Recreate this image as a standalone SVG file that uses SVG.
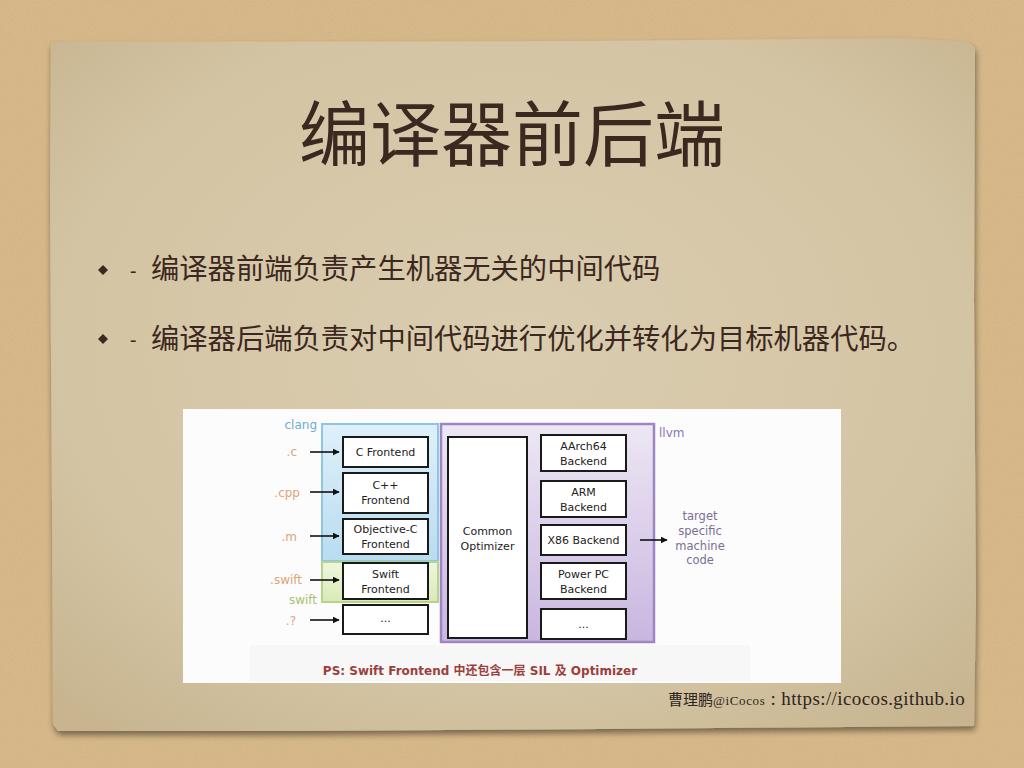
<svg xmlns="http://www.w3.org/2000/svg" width="1024" height="768" viewBox="0 0 1024 768">
<defs>
<filter id="cork" x="0" y="0" width="1024" height="768" filterUnits="userSpaceOnUse">
<feTurbulence type="fractalNoise" baseFrequency="0.8" numOctaves="2" seed="3" result="n"/>
<feColorMatrix in="n" type="matrix" values="0 0 0 0 0.58  0 0 0 0 0.44  0 0 0 0 0.27  1.6 0 0 0 -0.62" result="c"/>
</filter>
<filter id="shadow" x="-5%" y="-5%" width="110%" height="110%">
<feGaussianBlur in="SourceAlpha" stdDeviation="3"/>
<feOffset dx="1" dy="4"/>
<feComponentTransfer><feFuncA type="linear" slope="0.45"/></feComponentTransfer>
<feMerge><feMergeNode/><feMergeNode in="SourceGraphic"/></feMerge>
</filter>
<radialGradient id="paperG" cx="0.5" cy="0.45" r="0.7">
<stop offset="0" stop-color="#dacdb0"/>
<stop offset="0.7" stop-color="#d3c4a3"/>
<stop offset="1" stop-color="#c8b590"/>
</radialGradient>
<linearGradient id="clangG" x1="0" y1="0" x2="0" y2="1">
<stop offset="0" stop-color="#dff0fa"/>
<stop offset="1" stop-color="#b9dcf0"/>
</linearGradient>
<linearGradient id="swiftG" x1="0" y1="0" x2="0" y2="1">
<stop offset="0" stop-color="#eef6de"/>
<stop offset="1" stop-color="#d9eab8"/>
</linearGradient>
<linearGradient id="llvmG" x1="0" y1="0" x2="0" y2="1">
<stop offset="0" stop-color="#ede7f4"/>
<stop offset="1" stop-color="#c9b6e0"/>
</linearGradient>
<marker id="arr" viewBox="0 0 10 10" refX="9" refY="5" markerWidth="7" markerHeight="7" markerUnits="userSpaceOnUse" orient="auto">
<path d="M0,0 L10,5 L0,10 z" fill="#111"/>
</marker>
<style>
.title{font-family:"Noto Sans CJK SC","Noto Sans",sans-serif;font-size:71px;fill:#3c2820;}
.body{font-family:"Noto Sans CJK SC","Noto Sans",sans-serif;font-size:28.3px;fill:#3c2820;}
.dash{font-family:"Noto Sans",sans-serif;font-size:20px;fill:#3c2820;}
.box{fill:#ffffff;stroke:#1a1a1a;stroke-width:2;}
.lbl{font-family:"DejaVu Sans","Noto Sans CJK SC",sans-serif;font-size:11px;fill:#222;text-anchor:middle;}
.ext{font-family:"DejaVu Sans",sans-serif;font-size:12px;fill:#dca478;text-anchor:end;}
.tgt{font-family:"DejaVu Sans",sans-serif;font-size:11.5px;fill:#7a6e94;text-anchor:middle;}
.conn{stroke:#111;stroke-width:1.6;fill:none;marker-end:url(#arr);}
</style>
</defs>

<!-- cork background -->
<rect x="0" y="0" width="1024" height="768" fill="#d8b887"/>
<rect x="0" y="0" width="1024" height="768" fill="#000" filter="url(#cork)"/>

<!-- paper -->
<g filter="url(#shadow)">
<path d="M51,42 L600,41 L905,38 L968,42 L975,48 L974,300 L976,600 L974,726 L600,729 L300,731 L58,731 L53,724 L52,500 L50,200 Z" fill="url(#paperG)"/>
</g>

<!-- title -->
<text class="title" x="512" y="160" text-anchor="middle">编译器前后端</text>

<!-- bullets -->
<path d="M103,265 L108,270 L103,275 L98,270 Z" fill="#3c2820"/>
<text class="dash" x="130" y="278">-</text>
<text class="body" x="151" y="279">编译器前端负责产生机器无关的中间代码</text>
<path d="M103,334 L108,339 L103,344 L98,339 Z" fill="#3c2820"/>
<text class="dash" x="130" y="347">-</text>
<text class="body" x="151" y="349">编译器后端负责对中间代码进行优化并转化为目标机器代码。</text>

<!-- embedded diagram -->
<g id="figure">
<rect x="183" y="409" width="658" height="274" fill="#fcfcfc"/>
<rect x="250" y="645" width="500" height="36" fill="#f7f7f7"/>

<g id="clang-group">
<rect x="322" y="424" width="116" height="137" fill="url(#clangG)" stroke="#8fc4e2" stroke-width="2"/>
<text x="317" y="429" font-family="DejaVu Sans,sans-serif" font-size="12" fill="#6eaed2" text-anchor="end">clang</text>
</g>
<g id="swift-group">
<rect x="322" y="562" width="116" height="40" fill="url(#swiftG)" stroke="#b8d48c" stroke-width="2"/>
<text x="317" y="604" font-family="DejaVu Sans,sans-serif" font-size="12" fill="#a9c26e" text-anchor="end">swift</text>
</g>
<g id="llvm-group">
<rect x="441" y="424" width="213" height="218" fill="url(#llvmG)" stroke="#9d86c2" stroke-width="2.5"/>
<text x="659" y="437" font-family="DejaVu Sans,sans-serif" font-size="12" fill="#8d74b4">llvm</text>
</g>

<g id="c-frontend"><rect class="box" x="343" y="437" width="85" height="30"/><text class="lbl" x="385.5" y="456">C Frontend</text></g>
<g id="cpp-frontend"><rect class="box" x="343" y="473" width="85" height="40"/><text class="lbl" x="385.5" y="489">C++</text><text class="lbl" x="385.5" y="504">Frontend</text></g>
<g id="objc-frontend"><rect class="box" x="343" y="519" width="85" height="35"/><text class="lbl" x="385.5" y="533">Objective-C</text><text class="lbl" x="385.5" y="548">Frontend</text></g>
<g id="swift-frontend"><rect class="box" x="343" y="563" width="85" height="36"/><text class="lbl" x="385.5" y="578">Swift</text><text class="lbl" x="385.5" y="593">Frontend</text></g>
<g id="other-frontend"><rect class="box" x="343" y="605" width="85" height="29"/><text class="lbl" x="385.5" y="622">...</text></g>

<g id="common-optimizer"><rect class="box" x="448" y="437" width="79" height="201"/><text class="lbl" x="487.5" y="535">Common</text><text class="lbl" x="487.5" y="550">Optimizer</text></g>

<g id="aarch64-backend"><rect class="box" x="541" y="435" width="85" height="36"/><text class="lbl" x="583.5" y="450">AArch64</text><text class="lbl" x="583.5" y="465">Backend</text></g>
<g id="arm-backend"><rect class="box" x="541" y="481" width="85" height="36"/><text class="lbl" x="583.5" y="496">ARM</text><text class="lbl" x="583.5" y="511">Backend</text></g>
<g id="x86-backend"><rect class="box" x="541" y="525" width="85" height="30"/><text class="lbl" x="583.5" y="544">X86 Backend</text></g>
<g id="ppc-backend"><rect class="box" x="541" y="563" width="85" height="36"/><text class="lbl" x="583.5" y="578">Power PC</text><text class="lbl" x="583.5" y="593">Backend</text></g>
<g id="other-backend"><rect class="box" x="541" y="609" width="85" height="30"/><text class="lbl" x="583.5" y="628">...</text></g>

<g id="inputs">
<text class="ext" x="297" y="456">.c</text>
<text class="ext" x="300" y="497">.cpp</text>
<text class="ext" x="297" y="541">.m</text>
<text class="ext" x="302" y="584">.swift</text>
<text class="ext" x="296" y="625">.?</text>
</g>

<g id="target-output">
<text class="tgt" x="700" y="520">target</text>
<text class="tgt" x="700" y="535">specific</text>
<text class="tgt" x="700" y="550">machine</text>
<text class="tgt" x="700" y="564">code</text>
</g>

<g id="connectors">
<line class="conn" x1="310" y1="452" x2="339" y2="452"/>
<line class="conn" x1="310" y1="492" x2="339" y2="492"/>
<line class="conn" x1="310" y1="536" x2="339" y2="536"/>
<line class="conn" x1="310" y1="580" x2="339" y2="580"/>
<line class="conn" x1="310" y1="620" x2="339" y2="620"/>
<line class="conn" x1="640" y1="540" x2="667" y2="540"/>
</g>

<text x="480" y="675" font-family="DejaVu Sans,'Noto Sans CJK SC',sans-serif" font-size="12" font-weight="bold" fill="#9c3f3c" text-anchor="middle">PS: Swift Frontend 中还包含一层 SIL 及 Optimizer</text>
</g>

<!-- footer -->
<text x="668" y="705" font-family="'Liberation Serif','Noto Sans CJK SC',serif" font-size="19" fill="#2e2420"><tspan font-family="'Noto Sans CJK SC',sans-serif" font-size="15">曹理鹏</tspan><tspan font-size="13" letter-spacing="0.6">@iCocos</tspan><tspan letter-spacing="0.4"> : https://icocos.github.io</tspan></text>
</svg>
